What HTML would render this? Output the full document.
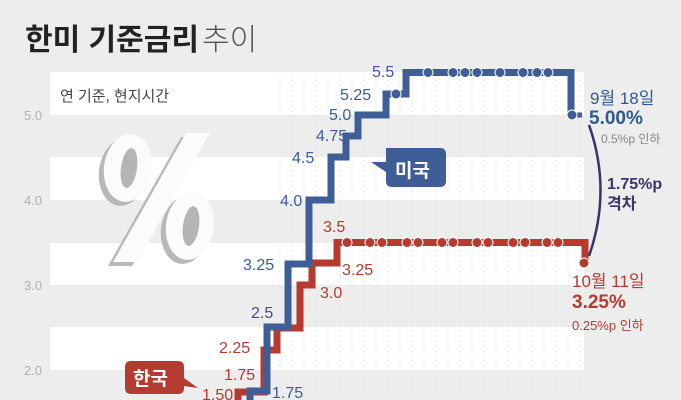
<!DOCTYPE html>
<html><head><meta charset="utf-8"><style>
body{margin:0;width:681px;height:400px;overflow:hidden;background:#ededed;font-family:"Liberation Sans","Noto Sans CJK KR",sans-serif}
</style></head><body>
<svg width="681" height="400" viewBox="0 0 681 400" xmlns="http://www.w3.org/2000/svg" style="position:absolute;left:0;top:0">
<rect width="681" height="400" fill="#ededed"/>
<g fill="#ffffff">
<rect x="50" y="72" width="534" height="43"/>
<rect x="50" y="157" width="534" height="43"/>
<rect x="50" y="243" width="534" height="42"/>
<rect x="50" y="327" width="534" height="43"/>
</g>
<g stroke="#dcdcdc" stroke-width="0.7" stroke-dasharray="2,3">
<line x1="280" y1="75" x2="280" y2="400"/><line x1="292" y1="75" x2="292" y2="400"/><line x1="304" y1="75" x2="304" y2="400"/><line x1="316" y1="75" x2="316" y2="400"/><line x1="328" y1="75" x2="328" y2="400"/><line x1="340" y1="75" x2="340" y2="400"/><line x1="352" y1="75" x2="352" y2="400"/><line x1="364" y1="75" x2="364" y2="400"/><line x1="376" y1="75" x2="376" y2="400"/><line x1="388" y1="75" x2="388" y2="400"/><line x1="400" y1="75" x2="400" y2="400"/><line x1="412" y1="75" x2="412" y2="400"/><line x1="424" y1="75" x2="424" y2="400"/><line x1="436" y1="75" x2="436" y2="400"/><line x1="448" y1="75" x2="448" y2="400"/><line x1="460" y1="75" x2="460" y2="400"/><line x1="472" y1="75" x2="472" y2="400"/><line x1="484" y1="75" x2="484" y2="400"/><line x1="496" y1="75" x2="496" y2="400"/><line x1="508" y1="75" x2="508" y2="400"/><line x1="520" y1="75" x2="520" y2="400"/><line x1="532" y1="75" x2="532" y2="400"/><line x1="544" y1="75" x2="544" y2="400"/><line x1="556" y1="75" x2="556" y2="400"/><line x1="568" y1="75" x2="568" y2="400"/><line x1="580" y1="75" x2="580" y2="400"/>
</g>
<text x="25" y="50" font-size="30" font-weight="bold" fill="#222">한미 기준금리</text>
<text x="202" y="50" font-size="30" fill="#555" font-weight="300">추이</text>
<text x="60" y="101" font-size="15" fill="#444">연 기준, 현지시간</text>
<g font-size="13" fill="#b0b0b0"><text x="24" y="120">5.0</text><text x="24" y="205">4.0</text><text x="24" y="290">3.0</text><text x="24" y="375">2.0</text></g>
<!-- big percent -->
<g transform="translate(-5,4)" fill="#b8b8b8">
<ellipse cx="128" cy="168" rx="24" ry="34" transform="rotate(8 128 168)"/>
<polygon points="186,133 210,133 137,262 113,262"/>
<ellipse cx="190" cy="226" rx="24" ry="34" transform="rotate(8 190 226)"/>
</g>
<g fill="#fbfbfb">
<ellipse cx="128" cy="168" rx="24" ry="34" transform="rotate(8 128 168)"/>
<polygon points="186,133 210,133 137,262 113,262"/>
<ellipse cx="190" cy="226" rx="24" ry="34" transform="rotate(8 190 226)"/>
</g>
<g fill="#b5b5b5">
<ellipse cx="129" cy="168" rx="8" ry="20" transform="rotate(8 129 168)"/>
<ellipse cx="191" cy="226" rx="8" ry="20" transform="rotate(8 191 226)"/>
</g>
<path d="M238 400 V392 H264 V350 H277 V328 H300 V285 H312 V263 H337 V242.5 H585 V262" fill="none" stroke="#b53a2f" stroke-width="7"/>
<path d="M250 400 V391 H267 V327 H288 V264 H309 V200 H331 V157 H346 V136 H358 V115 H386 V94 H406 V72.5 H571 V113" fill="none" stroke="#3f5d97" stroke-width="7"/>
<line x1="571" y1="115" x2="582" y2="115" stroke="#3f5d97" stroke-width="5"/>
<g fill="#b53a2f" stroke="#fff" stroke-width="1">
<circle cx="347" cy="242.5" r="5"/><circle cx="370" cy="242.5" r="5"/><circle cx="382" cy="242.5" r="5"/><circle cx="407" cy="242.5" r="5"/><circle cx="418" cy="242.5" r="5"/><circle cx="442" cy="242.5" r="5"/><circle cx="453" cy="242.5" r="5"/><circle cx="477" cy="242.5" r="5"/><circle cx="488" cy="242.5" r="5"/><circle cx="513" cy="242.5" r="5"/><circle cx="525" cy="242.5" r="5"/><circle cx="547" cy="242.5" r="5"/><circle cx="558" cy="242.5" r="5"/><circle cx="584" cy="263" r="5"/>
</g>
<g fill="#3f5d97" stroke="#fff" stroke-width="1">
<circle cx="396" cy="94" r="5"/><circle cx="428" cy="72.5" r="5"/><circle cx="453" cy="72.5" r="5"/><circle cx="465" cy="72.5" r="5"/><circle cx="477" cy="72.5" r="5"/><circle cx="500" cy="72.5" r="5"/><circle cx="523" cy="72.5" r="5"/><circle cx="537" cy="72.5" r="5"/><circle cx="548" cy="72.5" r="5"/><circle cx="572" cy="115" r="5"/>
</g>
<g font-size="16" fill="#3a5d98">
<text x="372" y="77">5.5</text><text x="340" y="100">5.25</text><text x="329" y="120">5.0</text><text x="316" y="141">4.75</text><text x="292" y="163">4.5</text><text x="280" y="206">4.0</text><text x="243" y="270">3.25</text><text x="251" y="318" fill="#4a4890">2.5</text><text x="272" y="398">1.75</text>
</g>
<g font-size="16" fill="#b53a2f">
<text x="323" y="232">3.5</text><text x="342" y="275">3.25</text><text x="320" y="298">3.0</text><text x="219" y="353">2.25</text><text x="224" y="380">1.75</text><text x="202" y="400">1.50</text>
</g>
<path d="M386 148 H440 Q446 148 446 154 V181 Q446 187 440 187 H392 Q386 187 386 181 V172 L371 162 L386 162 Z" fill="#3f5d97"/>
<text x="395" y="177" font-size="19" font-weight="bold" fill="#fff">미국</text>
<path d="M131 361 H178 Q184 361 184 367 V378 L198 388 L184 386 V388 Q184 394 178 394 H131 Q125 394 125 388 V367 Q125 361 131 361 Z" fill="#b53a2f"/>
<text x="133" y="385" font-size="19" font-weight="bold" fill="#fff">한국</text>
<path d="M589 125 Q612 190 589 256" fill="none" stroke="#3a3568" stroke-width="2.5"/>
<text x="590" y="104" font-size="17" fill="#2f5a8f">9월 18일</text>
<text x="589" y="124" font-size="19" font-weight="bold" fill="#2f5a8f">5.00%</text>
<text x="601" y="143" font-size="12" fill="#888">0.5%p 인하</text>
<text x="607" y="189" font-size="16" font-weight="bold" fill="#3a3568">1.75%p</text>
<text x="607" y="209" font-size="16" font-weight="bold" fill="#3a3568">격차</text>
<text x="572" y="287" font-size="17" fill="#b53a2f">10월 11일</text>
<text x="572" y="308" font-size="19" font-weight="bold" fill="#b53a2f">3.25%</text>
<text x="572" y="330" font-size="13" fill="#b53a2f">0.25%p 인하</text>
</svg>
</body></html>
